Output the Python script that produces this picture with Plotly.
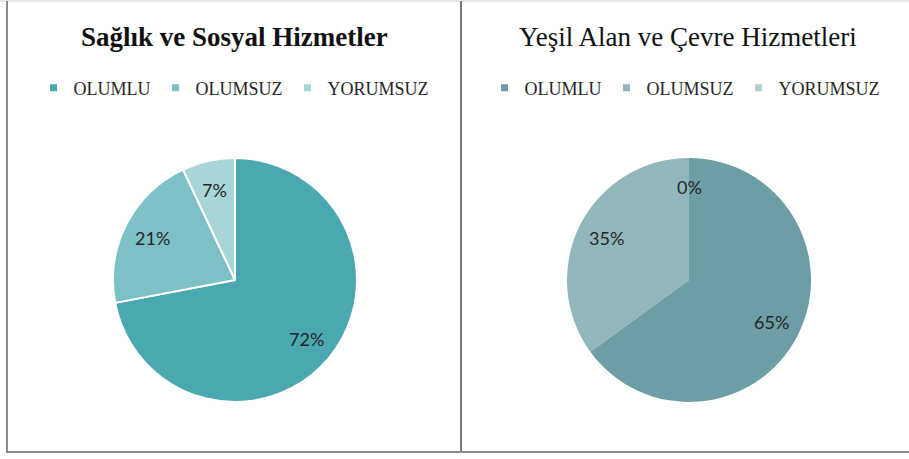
import numpy as np
import plotly.graph_objects as go

categories = ["OLUMLU", "OLUMSUZ", "YORUMSUZ"]
saglik_values = [72, 21, 7]
yesil_values = [65, 35, 0]

saglik_colors = ["#4aa8b0", "#7dc1c6", "#a8d5d7"]
yesil_colors = ["#6d9da5", "#91b6bb", "#b4cfd2"]

W, H = 909, 459
R = 122
LABEL_R = 0.76


def px_x(x):
    return x / W


def px_y(y):
    return 1 - y / H


def pie_labels(values, cx, cy):
    # percent labels placed like Excel's best-fit, from slice mid-angles
    total = sum(values)
    out = []
    start = 0.0
    for v in values:
        mid = (start + v / 2) / total * 2 * np.pi
        start += v
        x = cx + LABEL_R * R * np.sin(mid)
        y = cy - LABEL_R * R * np.cos(mid)
        out.append(dict(
            text=f"{round(100 * v / total)}%",
            x=px_x(x), y=px_y(y), xref="paper", yref="paper",
            showarrow=False, xanchor="center", yanchor="middle",
            font=dict(family="Lato", size=18, color="#262626"),
        ))
    return out


fig = go.Figure()

for vals, cols, cx, border in [
    (saglik_values, saglik_colors, 235, 2),
    (yesil_values, yesil_colors, 689, 0),
]:
    fig.add_trace(
        go.Pie(
            labels=categories,
            values=vals,
            sort=False,
            direction="clockwise",
            rotation=0,
            marker=dict(colors=cols, line=dict(color="white", width=border)),
            textinfo="none",
            domain=dict(x=[px_x(cx - R), px_x(cx + R)], y=[px_y(280 + R), px_y(280 - R)]),
            showlegend=False,
            hoverinfo="label+percent",
        )
    )

# legend proxies with small square markers
for name, col in zip(categories, saglik_colors):
    fig.add_trace(
        go.Scatter(
            x=[None], y=[None], mode="markers", name=name,
            marker=dict(symbol="square", size=7, color=col),
            legend="legend",
        )
    )
for name, col in zip(categories, yesil_colors):
    fig.add_trace(
        go.Scatter(
            x=[None], y=[None], mode="markers", name=name,
            marker=dict(symbol="square", size=7, color=col),
            legend="legend2",
        )
    )

legend_style = dict(
    orientation="h",
    xanchor="center",
    yanchor="middle",
    itemwidth=30,
    font=dict(family="Liberation Serif", size=18, color="#262626"),
    bgcolor="rgba(0,0,0,0)",
    itemclick=False,
    itemdoubleclick=False,
)

annotations = [
    dict(
        text="<b>Sağlık ve Sosyal Hizmetler</b>",
        x=px_x(235), y=px_y(37), xref="paper", yref="paper",
        showarrow=False, xanchor="center", yanchor="middle",
        font=dict(family="Liberation Serif", size=27, color="#111111"),
    ),
    dict(
        text="Yeşil Alan ve Çevre Hizmetleri",
        x=px_x(688), y=px_y(37), xref="paper", yref="paper",
        showarrow=False, xanchor="center", yanchor="middle",
        font=dict(family="Liberation Serif", size=27, color="#111111"),
    ),
]
annotations += pie_labels(saglik_values, 235, 280)
annotations += pie_labels(yesil_values, 689, 280)

fig.update_layout(
    width=W,
    height=H,
    margin=dict(l=0, r=0, t=0, b=0),
    paper_bgcolor="white",
    plot_bgcolor="white",
    xaxis=dict(visible=False),
    yaxis=dict(visible=False),
    legend=dict(x=px_x(234), y=px_y(88), **legend_style),
    legend2=dict(x=px_x(685), y=px_y(88), **legend_style),
    annotations=annotations,
    shapes=[
        dict(type="line", xref="paper", yref="paper",
             x0=px_x(0), x1=1, y0=px_y(1), y1=px_y(1),
             line=dict(color="#d0d0d0", width=1)),
        dict(type="line", xref="paper", yref="paper",
             x0=px_x(7), x1=px_x(7), y0=px_y(1), y1=px_y(452),
             line=dict(color="#8a8a8a", width=2)),
        dict(type="line", xref="paper", yref="paper",
             x0=px_x(461), x1=px_x(461), y0=px_y(1), y1=px_y(452),
             line=dict(color="#7a7a7a", width=2)),
        dict(type="line", xref="paper", yref="paper",
             x0=px_x(6), x1=1, y0=px_y(452), y1=px_y(452),
             line=dict(color="#8a8a8a", width=2)),
    ],
)

fig.write_html(
    "out.html",
    config={"displayModeBar": False},
    post_script="document.body.style.margin='0';",
)
